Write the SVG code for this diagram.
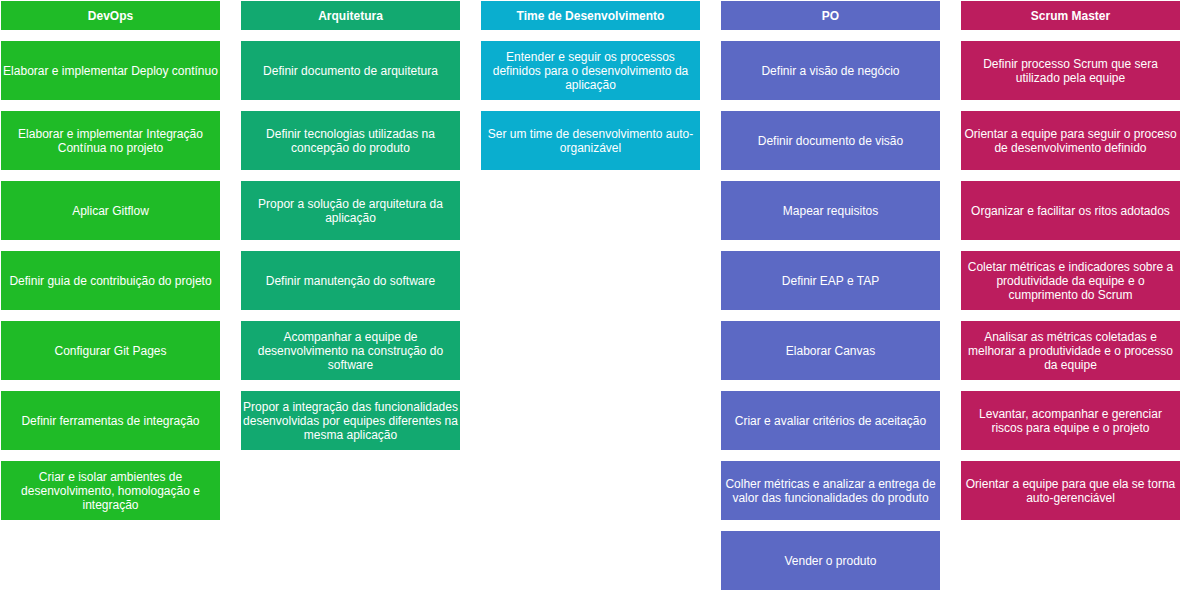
<svg xmlns="http://www.w3.org/2000/svg" width="1181" height="591" viewBox="0 0 1181 591">
<style>
text{font-family:"Liberation Sans",Arial,Helvetica,sans-serif;font-size:12px;fill:#ffffff;text-anchor:middle}
.h{font-weight:bold}
.c1{fill:#1fbb27}.c2{fill:#12a970}.c3{fill:#0aaecf}.c4{fill:#5c69c4}.c5{fill:#bc1d5e}
</style>
<rect width="1181" height="591" fill="#ffffff"/>
<g id="devops">
<g id="devops-h"><rect class="c1" x="1" y="1" width="219" height="29"/><text class="h" x="110.5" y="20">DevOps</text></g>
<g id="devops-1"><rect class="c1" x="1" y="41" width="219" height="59"/><text x="110.5" y="75">Elaborar e implementar Deploy contínuo</text></g>
<g id="devops-2"><rect class="c1" x="1" y="111" width="219" height="59"/><text x="110.5" y="138">Elaborar e implementar Integração</text><text x="110.5" y="152">Contínua no projeto</text></g>
<g id="devops-3"><rect class="c1" x="1" y="181" width="219" height="59"/><text x="110.5" y="215">Aplicar Gitflow</text></g>
<g id="devops-4"><rect class="c1" x="1" y="251" width="219" height="59"/><text x="110.5" y="285">Definir guia de contribuição do projeto</text></g>
<g id="devops-5"><rect class="c1" x="1" y="321" width="219" height="59"/><text x="110.5" y="355">Configurar Git Pages</text></g>
<g id="devops-6"><rect class="c1" x="1" y="391" width="219" height="59"/><text x="110.5" y="425">Definir ferramentas de integração</text></g>
<g id="devops-7"><rect class="c1" x="1" y="461" width="219" height="59"/><text x="110.5" y="481">Criar e isolar ambientes de</text><text x="110.5" y="495">desenvolvimento, homologação e</text><text x="110.5" y="509">integração</text></g>
</g>
<g id="arquitetura">
<g id="arq-h"><rect class="c2" x="241" y="1" width="219" height="29"/><text class="h" x="350.5" y="20">Arquitetura</text></g>
<g id="arq-1"><rect class="c2" x="241" y="41" width="219" height="59"/><text x="350.5" y="75">Definir documento de arquitetura</text></g>
<g id="arq-2"><rect class="c2" x="241" y="111" width="219" height="59"/><text x="350.5" y="138">Definir tecnologias utilizadas na</text><text x="350.5" y="152">concepção do produto</text></g>
<g id="arq-3"><rect class="c2" x="241" y="181" width="219" height="59"/><text x="350.5" y="208">Propor a solução de arquitetura da</text><text x="350.5" y="222">aplicação</text></g>
<g id="arq-4"><rect class="c2" x="241" y="251" width="219" height="59"/><text x="350.5" y="285">Definir manutenção do software</text></g>
<g id="arq-5"><rect class="c2" x="241" y="321" width="219" height="59"/><text x="350.5" y="341">Acompanhar a equipe de</text><text x="350.5" y="355">desenvolvimento na construção do</text><text x="350.5" y="369">software</text></g>
<g id="arq-6"><rect class="c2" x="241" y="391" width="219" height="59"/><text x="350.5" y="411">Propor a integração das funcionalidades</text><text x="350.5" y="425">desenvolvidas por equipes diferentes na</text><text x="350.5" y="439">mesma aplicação</text></g>
</g>
<g id="time">
<g id="time-h"><rect class="c3" x="481" y="1" width="219" height="29"/><text class="h" x="590.5" y="20">Time de Desenvolvimento</text></g>
<g id="time-1"><rect class="c3" x="481" y="41" width="219" height="59"/><text x="590.5" y="61">Entender e seguir os processos</text><text x="590.5" y="75">definidos para o desenvolvimento da</text><text x="590.5" y="89">aplicação</text></g>
<g id="time-2"><rect class="c3" x="481" y="111" width="219" height="59"/><text x="590.5" y="138">Ser um time de desenvolvimento auto-</text><text x="590.5" y="152">organizável</text></g>
</g>
<g id="po">
<g id="po-h"><rect class="c4" x="721" y="1" width="219" height="29"/><text class="h" x="830.5" y="20">PO</text></g>
<g id="po-1"><rect class="c4" x="721" y="41" width="219" height="59"/><text x="830.5" y="75">Definir a visão de negócio</text></g>
<g id="po-2"><rect class="c4" x="721" y="111" width="219" height="59"/><text x="830.5" y="145">Definir documento de visão</text></g>
<g id="po-3"><rect class="c4" x="721" y="181" width="219" height="59"/><text x="830.5" y="215">Mapear requisitos</text></g>
<g id="po-4"><rect class="c4" x="721" y="251" width="219" height="59"/><text x="830.5" y="285">Definir EAP e TAP</text></g>
<g id="po-5"><rect class="c4" x="721" y="321" width="219" height="59"/><text x="830.5" y="355">Elaborar Canvas</text></g>
<g id="po-6"><rect class="c4" x="721" y="391" width="219" height="59"/><text x="830.5" y="425">Criar e avaliar critérios de aceitação</text></g>
<g id="po-7"><rect class="c4" x="721" y="461" width="219" height="59"/><text x="830.5" y="488">Colher métricas e analizar a entrega de</text><text x="830.5" y="502">valor das funcionalidades do produto</text></g>
<g id="po-8"><rect class="c4" x="721" y="531" width="219" height="59"/><text x="830.5" y="565">Vender o produto</text></g>
</g>
<g id="scrum">
<g id="sm-h"><rect class="c5" x="961" y="1" width="219" height="29"/><text class="h" x="1070.5" y="20">Scrum Master</text></g>
<g id="sm-1"><rect class="c5" x="961" y="41" width="219" height="59"/><text x="1070.5" y="68">Definir processo Scrum que sera</text><text x="1070.5" y="82">utilizado pela equipe</text></g>
<g id="sm-2"><rect class="c5" x="961" y="111" width="219" height="59"/><text x="1070.5" y="138">Orientar a equipe para seguir o proceso</text><text x="1070.5" y="152">de desenvolvimento definido</text></g>
<g id="sm-3"><rect class="c5" x="961" y="181" width="219" height="59"/><text x="1070.5" y="215">Organizar e facilitar os ritos adotados</text></g>
<g id="sm-4"><rect class="c5" x="961" y="251" width="219" height="59"/><text x="1070.5" y="271">Coletar métricas e indicadores sobre a</text><text x="1070.5" y="285">produtividade da equipe e o</text><text x="1070.5" y="299">cumprimento do Scrum</text></g>
<g id="sm-5"><rect class="c5" x="961" y="321" width="219" height="59"/><text x="1070.5" y="341">Analisar as métricas coletadas e</text><text x="1070.5" y="355">melhorar a produtividade e o processo</text><text x="1070.5" y="369">da equipe</text></g>
<g id="sm-6"><rect class="c5" x="961" y="391" width="219" height="59"/><text x="1070.5" y="418">Levantar, acompanhar e gerenciar</text><text x="1070.5" y="432">riscos para equipe e o projeto</text></g>
<g id="sm-7"><rect class="c5" x="961" y="461" width="219" height="59"/><text x="1070.5" y="488">Orientar a equipe para que ela se torna</text><text x="1070.5" y="502">auto-gerenciável</text></g>
</g>
<g id="connectors"/>
</svg>
